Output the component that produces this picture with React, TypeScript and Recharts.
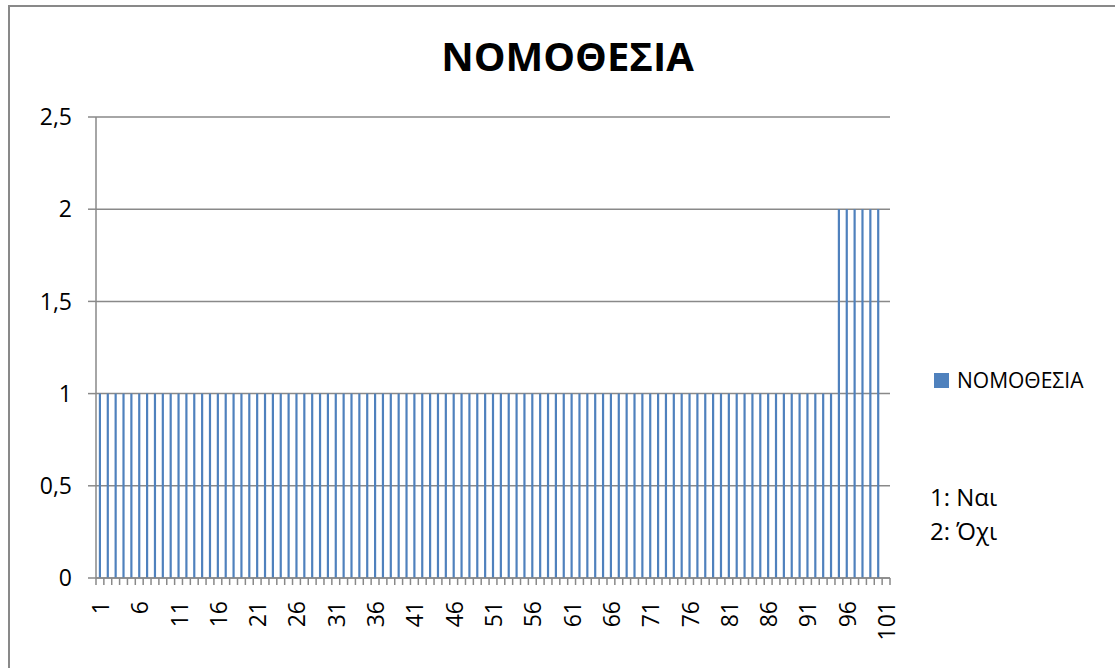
import React from 'react';
import { BarChart, Bar, XAxis, YAxis, CartesianGrid, Legend } from 'recharts';

const categories = [
  '1', '2', '3', '4', '5', '6', '7', '8', '9', '10',
  '11', '12', '13', '14', '15', '16', '17', '18', '19', '20',
  '21', '22', '23', '24', '25', '26', '27', '28', '29', '30',
  '31', '32', '33', '34', '35', '36', '37', '38', '39', '40',
  '41', '42', '43', '44', '45', '46', '47', '48', '49', '50',
  '51', '52', '53', '54', '55', '56', '57', '58', '59', '60',
  '61', '62', '63', '64', '65', '66', '67', '68', '69', '70',
  '71', '72', '73', '74', '75', '76', '77', '78', '79', '80',
  '81', '82', '83', '84', '85', '86', '87', '88', '89', '90',
  '91', '92', '93', '94', '95', '96', '97', '98', '99', '100',
  '101',
];

// 1: Ναι, 2: Όχι (last row empty)
const answers: (number | null)[] = [
  1, 1, 1, 1, 1, 1, 1, 1, 1, 1,
  1, 1, 1, 1, 1, 1, 1, 1, 1, 1,
  1, 1, 1, 1, 1, 1, 1, 1, 1, 1,
  1, 1, 1, 1, 1, 1, 1, 1, 1, 1,
  1, 1, 1, 1, 1, 1, 1, 1, 1, 1,
  1, 1, 1, 1, 1, 1, 1, 1, 1, 1,
  1, 1, 1, 1, 1, 1, 1, 1, 1, 1,
  1, 1, 1, 1, 1, 1, 1, 1, 1, 1,
  1, 1, 1, 1, 1, 1, 1, 1, 1, 1,
  1, 1, 1, 1, 2, 2, 2, 2, 2, 2,
  null,
];

const yTicks = [0, 0.5, 1, 1.5, 2, 2.5];
const seriesName = 'ΝΟΜΟΘΕΣΙΑ';
const notes = ['1: Ναι', '2: Όχι'];

const BLUE = '#4F81BD';
const GRID = '#898989';
const FONT = '"Open Sans", sans-serif';
const PLOT_W = 1115 - 225 - 26 - 70;

const data = categories.map((name, i) => ({ name, value: answers[i] }));

// Excel-style: tick marks on category boundaries, label every 5th category
const CatTick = ({ x, y, payload, index }: any) => {
  const half = payload && payload.offset ? payload.offset : PLOT_W / categories.length / 2;
  const ty = y + 23;
  const last = index === categories.length - 1;
  return (
    <g>
      <line x1={x - half} y1={y} x2={x - half} y2={y + 7} stroke={GRID} strokeWidth={1.5} />
      {last && <line x1={x + half} y1={y} x2={x + half} y2={y + 7} stroke={GRID} strokeWidth={1.5} />}
      {index % 5 === 0 && (
        <text
          x={x}
          y={ty}
          transform={`rotate(-90 ${x} ${ty})`}
          textAnchor="end"
          dominantBaseline="central"
          fontSize={23}
          fontFamily={FONT}
          fill="#000"
        >
          {payload.value}
        </text>
      )}
    </g>
  );
};

const LegendBox = () => (
  <div style={{ display: 'flex', alignItems: 'center', fontFamily: FONT, fontSize: 21, color: '#000' }}>
    <span style={{ display: 'inline-block', width: 15, height: 15, background: BLUE, marginRight: 8 }} />
    <span>{seriesName}</span>
  </div>
);

export default function App() {
  return (
    <div style={{ position: 'fixed', left: 0, top: 0, width: 1115, height: 668, overflow: 'hidden', background: '#fff', fontFamily: FONT }}>
      <div style={{ position: 'absolute', left: 8, top: 5, width: 1200, height: 800, borderLeft: `2px solid ${GRID}`, borderTop: `2px solid ${GRID}` }} />
      <div style={{ position: 'absolute', left: 8, width: 1119, top: 36, textAlign: 'center', fontSize: 40, lineHeight: '40px', fontWeight: 700, color: '#000' }}>
        {seriesName}
      </div>
      <div style={{ position: 'absolute', left: 0, top: 0 }}>
        <BarChart
          width={1115}
          height={668}
          data={data}
          margin={{ top: 117, right: 225, left: 26, bottom: 0 }}
          barCategoryGap="64%"
        >
          <CartesianGrid vertical={false} stroke={GRID} strokeWidth={1.5} />
          <XAxis
            dataKey="name"
            interval={0}
            height={90}
            tickSize={0}
            tickMargin={0}
            axisLine={{ stroke: GRID, strokeWidth: 1.5 }}
            tickLine={false}
            tick={<CatTick />}
          />
          <YAxis
            domain={[0, 2.5]}
            ticks={yTicks}
            width={70}
            tickSize={8}
            tickMargin={16}
            tickFormatter={(v: number) => String(v).replace('.', ',')}
            axisLine={{ stroke: GRID, strokeWidth: 1.5 }}
            tickLine={{ stroke: GRID, strokeWidth: 1.5 }}
            tick={{ fill: '#000', fontSize: 23, fontFamily: FONT }}
          />
          <Legend
            layout="vertical"
            align="center"
            verticalAlign="middle"
            content={<LegendBox />}
            wrapperStyle={{ left: 934, top: 366, width: 180 }}
          />
          <Bar dataKey="value" name={seriesName} fill={BLUE} isAnimationActive={false} />
        </BarChart>
      </div>
      <div style={{ position: 'absolute', left: 930, top: 480, fontSize: 24, lineHeight: '34px', color: '#000' }}>
        {notes.map((n) => (
          <div key={n}>{n}</div>
        ))}
      </div>
    </div>
  );
}
